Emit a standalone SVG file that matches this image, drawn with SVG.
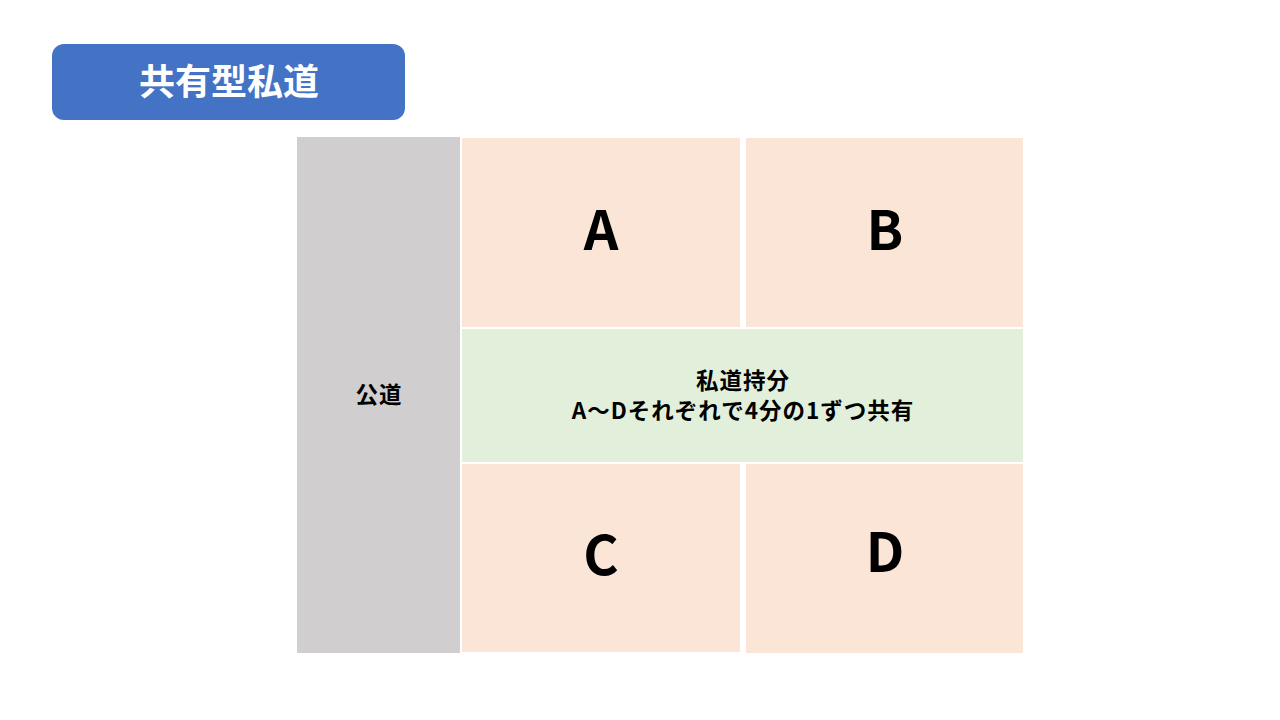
<svg xmlns="http://www.w3.org/2000/svg" width="1280" height="720" viewBox="0 0 1280 720">
<style>
.lot{fill:#FBE5D6}
.big{font-family:"Noto Sans CJK JP","Noto Sans",sans-serif;font-weight:bold;font-size:54px;fill:#000;text-anchor:middle}
.lbl{font-family:"Noto Sans CJK JP","Noto Sans",sans-serif;font-weight:bold;font-size:22.5px;letter-spacing:1px;fill:#000;text-anchor:middle}
</style>
<rect width="1280" height="720" fill="#fff"/>
<g id="title">
<rect x="52" y="44" width="353" height="76" rx="12" fill="#4472C4"/>
<text x="229" y="95" font-family="Noto Sans CJK JP,sans-serif" font-weight="bold" font-size="36" fill="#fff" text-anchor="middle">共有型私道</text>
</g>
<g id="public-road">
<rect x="297" y="137" width="163" height="516" fill="#D0CECE"/>
<text class="lbl" x="379" y="403">公道</text>
</g>
<g id="lot-a"><rect class="lot" x="462" y="138" width="278" height="189"/><text class="big" x="601" y="250">A</text></g>
<g id="lot-b"><rect class="lot" x="746" y="138" width="277" height="189"/><text class="big" x="885" y="250">B</text></g>
<g id="private-road">
<rect x="462" y="329" width="561" height="133" fill="#E2EFDA"/>
<text class="lbl" x="743" y="389">私道持分</text>
<text class="lbl" x="743" y="419">A～Dそれぞれで4分の1ずつ共有</text>
</g>
<g id="lot-c"><rect class="lot" x="462" y="464" width="278" height="188"/><text class="big" x="601" y="575">C</text></g>
<g id="lot-d"><rect class="lot" x="746" y="464" width="277" height="189"/><text class="big" x="885" y="572">D</text></g>
<g id="connectors"/>
</svg>
